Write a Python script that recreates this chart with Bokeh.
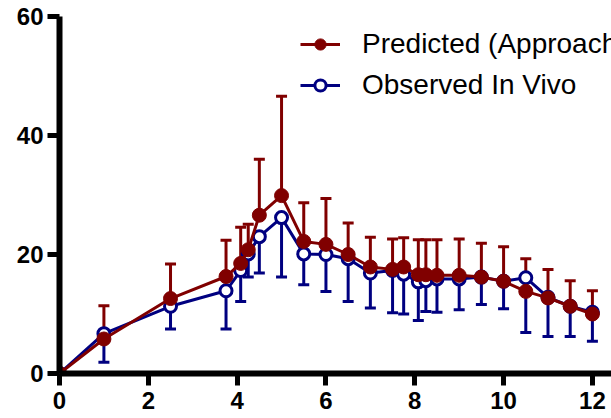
from bokeh.plotting import figure
from bokeh.models import (ColumnDataSource, Whisker, TeeHead, Legend, LegendItem,
                          FixedTicker, Range1d)
from bokeh.embed import file_html
from bokeh.resources import INLINE

# ---- data ----
time_h = [0, 1, 2.5, 3.75, 4.08, 4.25, 4.5, 5, 5.5, 6, 6.5, 7, 7.5, 7.75,
          8.08, 8.25, 8.5, 9, 9.5, 10, 10.5, 11, 11.5, 12]
pred_mean = [0, 5.8, 12.6, 16.3, 18.5, 20.8, 26.6, 29.9, 22.2, 21.7, 20.0, 17.9,
             17.5, 17.9, 16.6, 16.6, 16.5, 16.5, 16.2, 15.5, 13.8, 12.7, 11.3, 10.0]
pred_sd = [0, 5.6, 5.8, 6.1, 6.1, 4.3, 9.4, 16.7, 6.5, 7.7, 5.3, 5.0,
           5.1, 4.9, 5.9, 5.9, 6.0, 6.1, 5.7, 5.8, 5.5, 4.8, 4.3, 3.9]
obs_mean = [0, 6.7, 11.3, 13.9, 17.3, 20.1, 23.0, 26.2, 20.1, 20.0, 19.3, 16.9,
            17.3, 16.7, 15.4, 15.6, 15.9, 15.9, 16.2, 15.5, 16.1, 12.8, 11.3, 10.3]
obs_sd = [0, 4.8, 3.8, 6.4, 5.2, 3.9, 6.1, 10.0, 5.2, 6.2, 7.2, 5.9,
          7.1, 6.7, 6.5, 5.2, 5.6, 5.2, 4.6, 4.6, 9.2, 6.6, 5.1, 4.9]
x_ticks = [0, 2, 4, 6, 8, 10, 12]
y_ticks = [0, 20, 40, 60]
label_pred = "Predicted (Approach"
label_obs = "Observed In Vivo"

RED = "#800000"
BLUE = "#000080"

p = figure(width=611, height=418, x_range=Range1d(0, 12.43), y_range=Range1d(0, 60),
           output_backend="svg", toolbar_location=None,
           min_border_left=59, min_border_right=0, min_border_top=16, min_border_bottom=45)
p.outline_line_color = None
p.xgrid.grid_line_color = None
p.ygrid.grid_line_color = None

for ax in (p.xaxis[0], p.yaxis[0]):
    ax.axis_line_width = 6
    ax.axis_line_color = "black"
    ax.major_tick_line_width = 5
    ax.major_tick_out = 12
    ax.major_tick_in = 0
    ax.minor_tick_line_color = None
    ax.major_label_text_font = "Liberation Sans"
    ax.major_label_text_font_style = "bold"
    ax.major_label_text_font_size = "24px"
    ax.major_label_text_color = "black"
p.xaxis.ticker = FixedTicker(ticks=x_ticks)
p.yaxis.ticker = FixedTicker(ticks=y_ticks)
p.xaxis.major_label_standoff = 6
p.yaxis.major_label_standoff = 4

# error bar sources (skip zero-length bars)
obs_src = ColumnDataSource(dict(
    x=[t for t, s in zip(time_h, obs_sd) if s > 0],
    y=[m for m, s in zip(obs_mean, obs_sd) if s > 0],
    lo=[m - s for m, s in zip(obs_mean, obs_sd) if s > 0]))
pred_src = ColumnDataSource(dict(
    x=[t for t, s in zip(time_h, pred_sd) if s > 0],
    y=[m for m, s in zip(pred_mean, pred_sd) if s > 0],
    hi=[m + s for m, s in zip(pred_mean, pred_sd) if s > 0]))

w_obs = Whisker(source=obs_src, base="x", upper="y", lower="lo",
                line_color=BLUE, line_width=3, upper_head=None,
                lower_head=TeeHead(size=11, line_color=BLUE, line_width=3))
p.add_layout(w_obs)
r_obs_line = p.line(time_h, obs_mean, line_color=BLUE, line_width=3)
r_obs_pts = p.scatter(time_h, obs_mean, marker="circle", size=12, fill_color="white",
                      line_color=BLUE, line_width=3)

w_pred = Whisker(source=pred_src, base="x", upper="hi", lower="y",
                 line_color=RED, line_width=3, lower_head=None,
                 upper_head=TeeHead(size=11, line_color=RED, line_width=3))
p.add_layout(w_pred)
r_pred_line = p.line(time_h, pred_mean, line_color=RED, line_width=3)
r_pred_pts = p.scatter(time_h, pred_mean, marker="circle", size=14, fill_color=RED,
                       line_color=RED, line_width=1)

legend = Legend(items=[LegendItem(label=label_pred, renderers=[r_pred_line, r_pred_pts]),
                       LegendItem(label=label_obs, renderers=[r_obs_line, r_obs_pts])],
                location=(241, 272), border_line_color=None, background_fill_alpha=0,
                label_text_font="Liberation Sans", label_text_font_size="28px",
                label_text_color="black",
                glyph_width=40, glyph_height=28, label_standoff=22, spacing=9,
                padding=0, margin=0)
p.add_layout(legend)

open("out.html", "w").write(file_html(p, INLINE))
